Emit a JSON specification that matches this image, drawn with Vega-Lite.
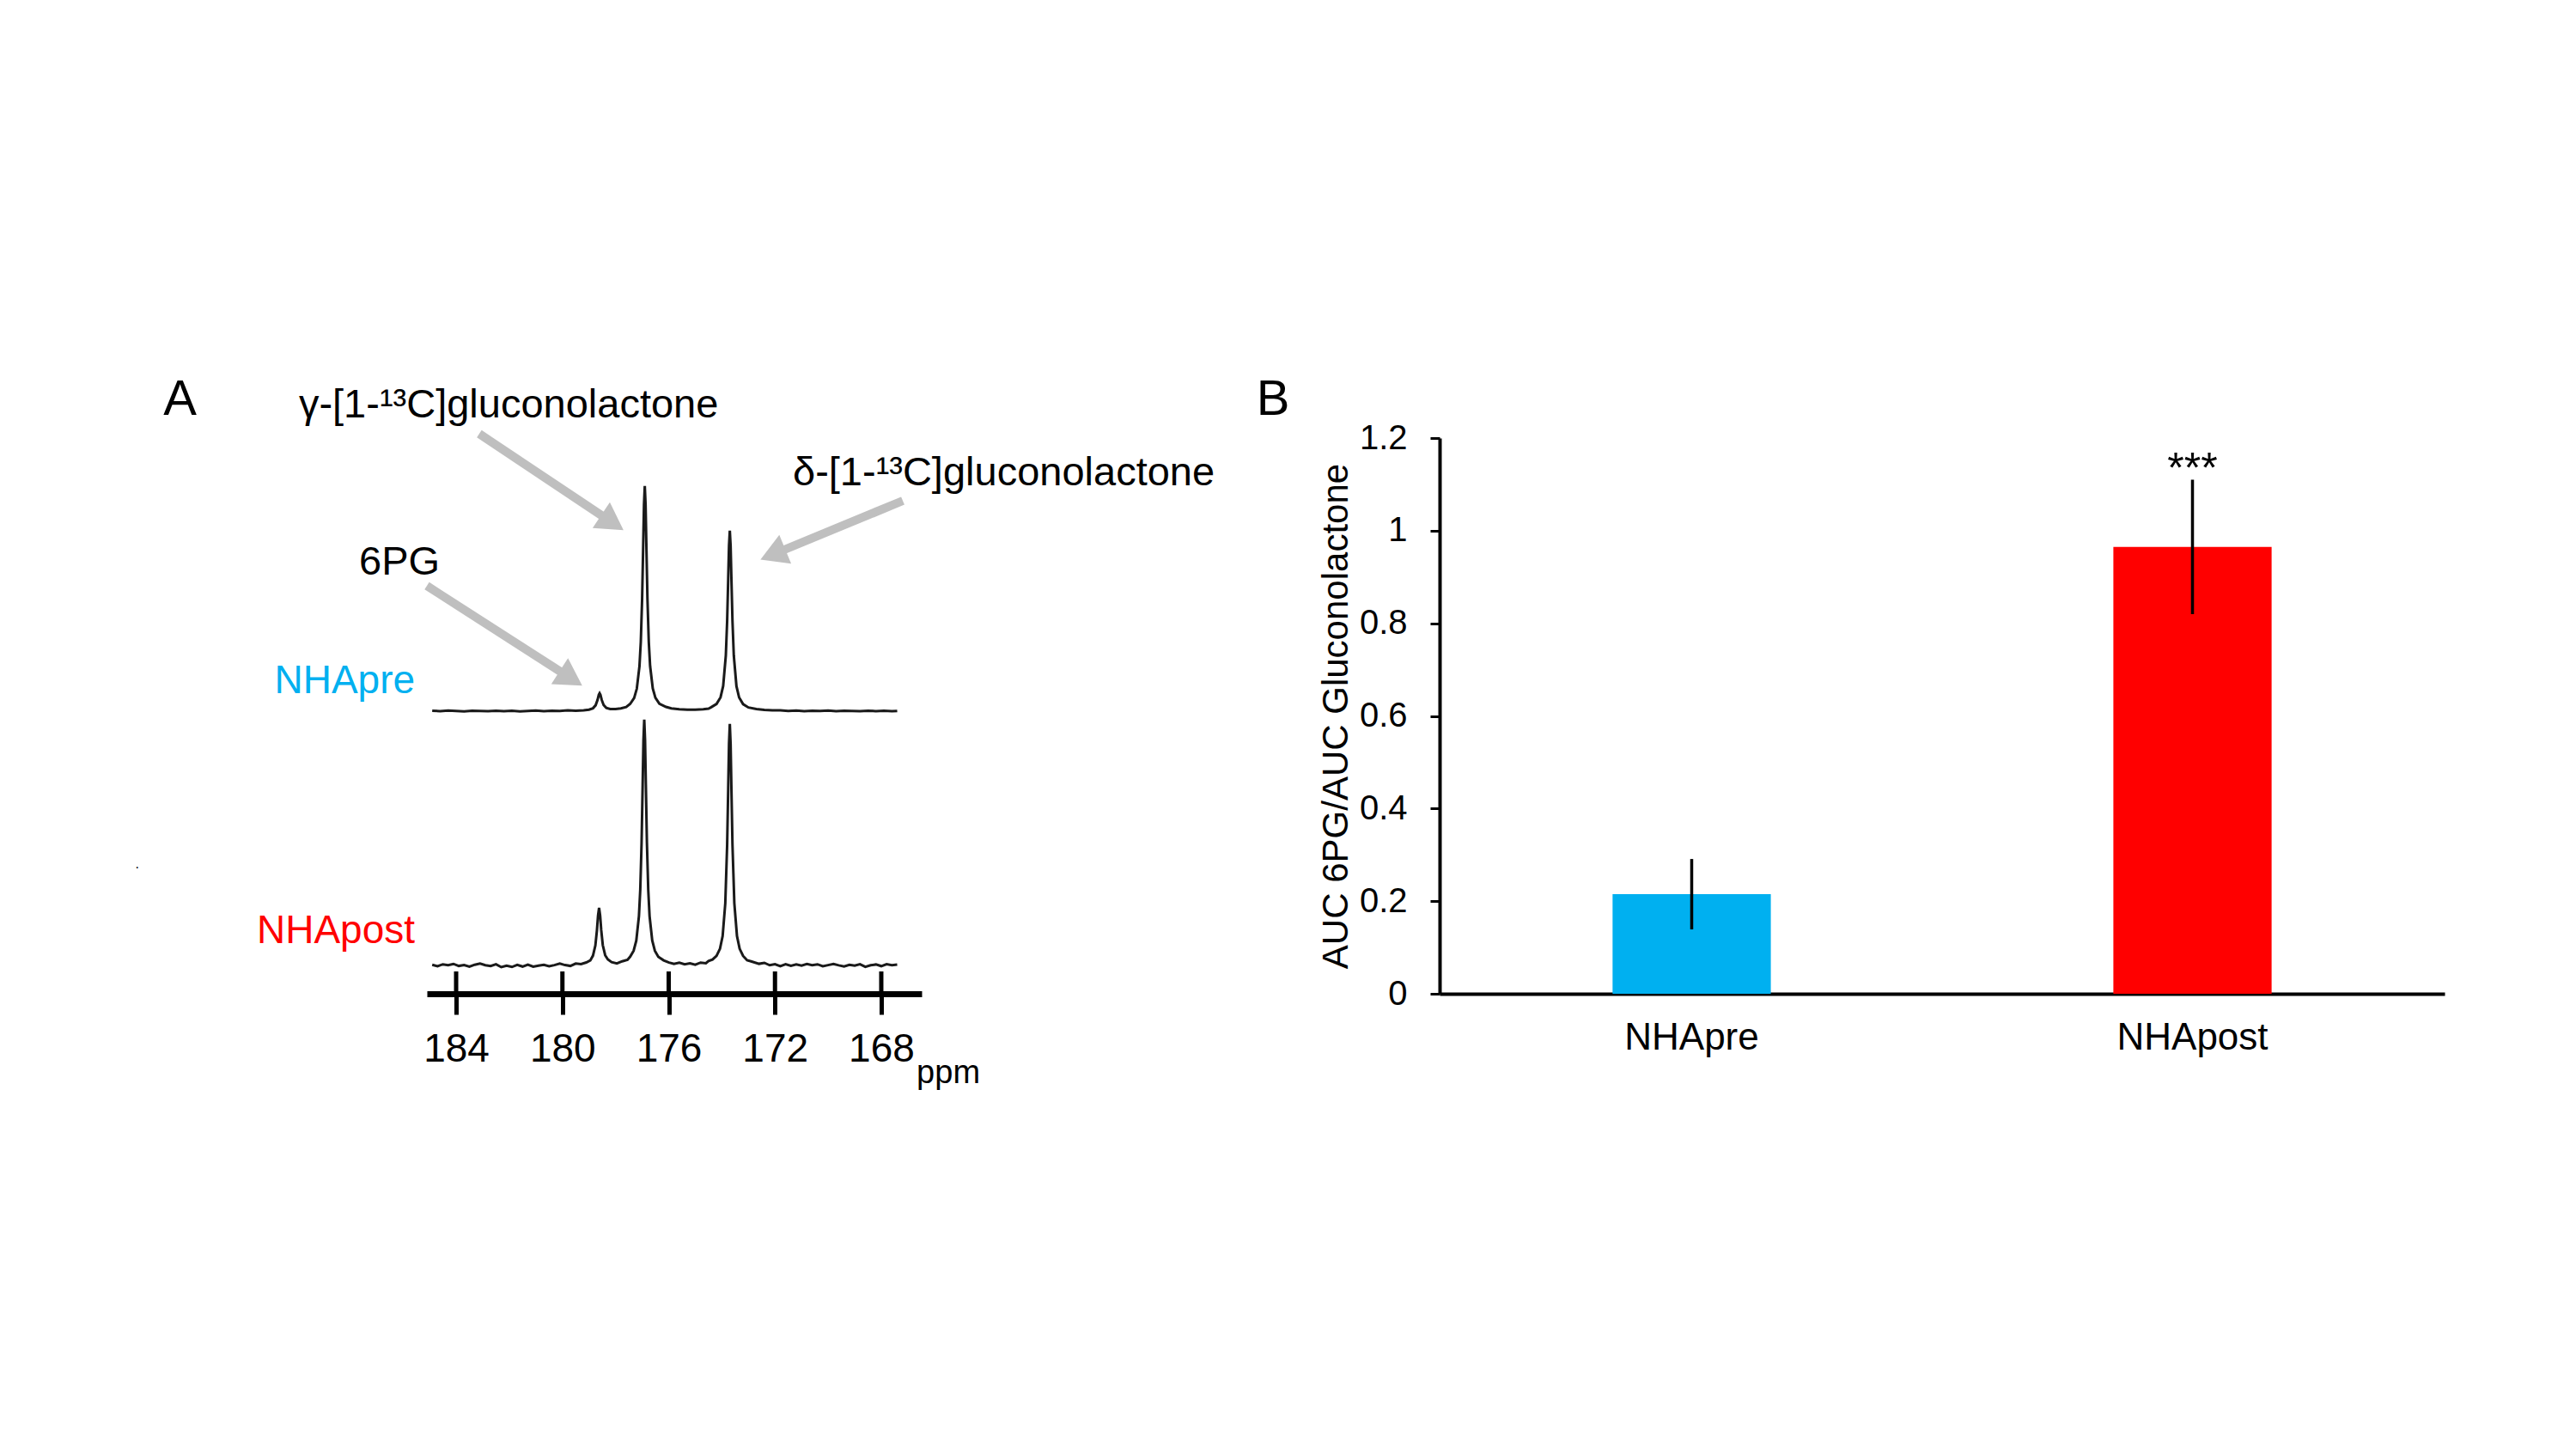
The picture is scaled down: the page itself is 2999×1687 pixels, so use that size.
{
"$schema": "https://vega.github.io/schema/vega-lite/v6.json",
"background": "white",
"padding": {"left": 157, "top": 437, "right": 20, "bottom": 20},
"bounds": "flush",
"spacing": 603,
"config": {"view": {"stroke": null}, "font": "Liberation Sans", "axis": {"labelColor": "black", "titleColor": "black", "domainColor": "black", "tickColor": "black", "grid": false}},
"datasets": {
"spectra": [
{"trace":"NHApre","ppm":184.9,"signal":296.5},{"trace":"NHApre","ppm":184.6,"signal":296},{"trace":"NHApre","ppm":184.3,"signal":296.8},{"trace":"NHApre","ppm":184.0,"signal":296.2},{"trace":"NHApre","ppm":183.7,"signal":295.8},{"trace":"NHApre","ppm":183.4,"signal":296.5},{"trace":"NHApre","ppm":183.1,"signal":296.3},{"trace":"NHApre","ppm":182.8,"signal":295.9},{"trace":"NHApre","ppm":182.5,"signal":296.6},{"trace":"NHApre","ppm":182.2,"signal":296.1},{"trace":"NHApre","ppm":181.9,"signal":296.4},{"trace":"NHApre","ppm":181.6,"signal":295.8},{"trace":"NHApre","ppm":181.3,"signal":296.3},{"trace":"NHApre","ppm":181.0,"signal":296.7},{"trace":"NHApre","ppm":180.7,"signal":296.1},{"trace":"NHApre","ppm":180.4,"signal":296.5},{"trace":"NHApre","ppm":180.1,"signal":296.2},{"trace":"NHApre","ppm":179.8,"signal":296.9},{"trace":"NHApre","ppm":179.5,"signal":296.6},{"trace":"NHApre","ppm":179.2,"signal":297.0},{"trace":"NHApre","ppm":179.0,"signal":297.8},{"trace":"NHApre","ppm":178.85,"signal":299.4},{"trace":"NHApre","ppm":178.75,"signal":302.9},{"trace":"NHApre","ppm":178.68,"signal":309},{"trace":"NHApre","ppm":178.63,"signal":315.1},{"trace":"NHApre","ppm":178.6,"signal":316.8},{"trace":"NHApre","ppm":178.57,"signal":315.1},{"trace":"NHApre","ppm":178.52,"signal":309.1},{"trace":"NHApre","ppm":178.45,"signal":303.2},{"trace":"NHApre","ppm":178.35,"signal":299.9},{"trace":"NHApre","ppm":178.2,"signal":298.6},{"trace":"NHApre","ppm":178.0,"signal":298.5},{"trace":"NHApre","ppm":177.8,"signal":299.2},{"trace":"NHApre","ppm":177.6,"signal":300.8},{"trace":"NHApre","ppm":177.45,"signal":304.5},{"trace":"NHApre","ppm":177.3,"signal":311.4},{"trace":"NHApre","ppm":177.2,"signal":322.2},{"trace":"NHApre","ppm":177.1,"signal":348.4},{"trace":"NHApre","ppm":177.05,"signal":376.7},{"trace":"NHApre","ppm":177.0,"signal":427},{"trace":"NHApre","ppm":176.96,"signal":488.6},{"trace":"NHApre","ppm":176.93,"signal":536.3},{"trace":"NHApre","ppm":176.9,"signal":558.2},{"trace":"NHApre","ppm":176.87,"signal":536.5},{"trace":"NHApre","ppm":176.84,"signal":488.8},{"trace":"NHApre","ppm":176.8,"signal":427.2},{"trace":"NHApre","ppm":176.75,"signal":377},{"trace":"NHApre","ppm":176.7,"signal":348.7},{"trace":"NHApre","ppm":176.6,"signal":322.5},{"trace":"NHApre","ppm":176.5,"signal":311.7},{"trace":"NHApre","ppm":176.35,"signal":304.7},{"trace":"NHApre","ppm":176.1,"signal":301},{"trace":"NHApre","ppm":175.9,"signal":299.3},{"trace":"NHApre","ppm":175.6,"signal":298.2},{"trace":"NHApre","ppm":175.3,"signal":297.8},{"trace":"NHApre","ppm":175.0,"signal":297.8},{"trace":"NHApre","ppm":174.7,"signal":298.3},{"trace":"NHApre","ppm":174.5,"signal":299},{"trace":"NHApre","ppm":174.4,"signal":300.6},{"trace":"NHApre","ppm":174.2,"signal":304.4},{"trace":"NHApre","ppm":174.05,"signal":312.1},{"trace":"NHApre","ppm":173.95,"signal":325.3},{"trace":"NHApre","ppm":173.85,"signal":360.9},{"trace":"NHApre","ppm":173.8,"signal":401.2},{"trace":"NHApre","ppm":173.76,"signal":450.5},{"trace":"NHApre","ppm":173.73,"signal":488.8},{"trace":"NHApre","ppm":173.7,"signal":506.2},{"trace":"NHApre","ppm":173.67,"signal":488.8},{"trace":"NHApre","ppm":173.64,"signal":450.5},{"trace":"NHApre","ppm":173.6,"signal":401.2},{"trace":"NHApre","ppm":173.55,"signal":360.8},{"trace":"NHApre","ppm":173.45,"signal":325.1},{"trace":"NHApre","ppm":173.35,"signal":312},{"trace":"NHApre","ppm":173.2,"signal":304.2},{"trace":"NHApre","ppm":173.0,"signal":300.3},{"trace":"NHApre","ppm":172.7,"signal":298.6},{"trace":"NHApre","ppm":172.4,"signal":297.6},{"trace":"NHApre","ppm":172.1,"signal":297},{"trace":"NHApre","ppm":171.8,"signal":296.9},{"trace":"NHApre","ppm":171.5,"signal":296.3},{"trace":"NHApre","ppm":171.2,"signal":296.7},{"trace":"NHApre","ppm":170.9,"signal":296.1},{"trace":"NHApre","ppm":170.6,"signal":296.5},{"trace":"NHApre","ppm":170.3,"signal":296.2},{"trace":"NHApre","ppm":170.0,"signal":296.8},{"trace":"NHApre","ppm":169.7,"signal":296.0},{"trace":"NHApre","ppm":169.4,"signal":296.5},{"trace":"NHApre","ppm":169.1,"signal":296.3},{"trace":"NHApre","ppm":168.8,"signal":295.9},{"trace":"NHApre","ppm":168.5,"signal":296.6},{"trace":"NHApre","ppm":168.2,"signal":296.1},{"trace":"NHApre","ppm":167.9,"signal":296.4},{"trace":"NHApre","ppm":167.6,"signal":295.9},{"trace":"NHApre","ppm":167.4,"signal":296.3},
{"trace":"NHApost","ppm":184.9,"signal":0.7},{"trace":"NHApost","ppm":184.7,"signal":-1},{"trace":"NHApost","ppm":184.5,"signal":1.3},{"trace":"NHApost","ppm":184.3,"signal":0.2},{"trace":"NHApost","ppm":184.1,"signal":1.8},{"trace":"NHApost","ppm":183.9,"signal":-0.6},{"trace":"NHApost","ppm":183.7,"signal":0.4},{"trace":"NHApost","ppm":183.5,"signal":-1.5},{"trace":"NHApost","ppm":183.3,"signal":0.8},{"trace":"NHApost","ppm":183.1,"signal":2.1},{"trace":"NHApost","ppm":182.9,"signal":0.3},{"trace":"NHApost","ppm":182.7,"signal":-0.7},{"trace":"NHApost","ppm":182.5,"signal":1.4},{"trace":"NHApost","ppm":182.3,"signal":-2},{"trace":"NHApost","ppm":182.1,"signal":-0.4},{"trace":"NHApost","ppm":181.9,"signal":-1.8},{"trace":"NHApost","ppm":181.7,"signal":0.6},{"trace":"NHApost","ppm":181.5,"signal":-1.3},{"trace":"NHApost","ppm":181.3,"signal":1},{"trace":"NHApost","ppm":181.1,"signal":-1.4},{"trace":"NHApost","ppm":180.9,"signal":-0.2},{"trace":"NHApost","ppm":180.7,"signal":0.7},{"trace":"NHApost","ppm":180.5,"signal":-1},{"trace":"NHApost","ppm":180.3,"signal":0.4},{"trace":"NHApost","ppm":180.1,"signal":2.2},{"trace":"NHApost","ppm":179.9,"signal":0.4},{"trace":"NHApost","ppm":179.7,"signal":-0.6},{"trace":"NHApost","ppm":179.5,"signal":2.2},{"trace":"NHApost","ppm":179.3,"signal":1.5},{"trace":"NHApost","ppm":179.1,"signal":3.5},{"trace":"NHApost","ppm":178.95,"signal":5.8},{"trace":"NHApost","ppm":178.85,"signal":11.4},{"trace":"NHApost","ppm":178.76,"signal":23.2},{"trace":"NHApost","ppm":178.7,"signal":41.2},{"trace":"NHApost","ppm":178.66,"signal":57.9},{"trace":"NHApost","ppm":178.62,"signal":67},{"trace":"NHApost","ppm":178.58,"signal":58},{"trace":"NHApost","ppm":178.54,"signal":41.3},{"trace":"NHApost","ppm":178.48,"signal":23.5},{"trace":"NHApost","ppm":178.39,"signal":11.8},{"trace":"NHApost","ppm":178.29,"signal":7},{"trace":"NHApost","ppm":178.15,"signal":3.8},{"trace":"NHApost","ppm":177.95,"signal":2.4},{"trace":"NHApost","ppm":177.75,"signal":4.8},{"trace":"NHApost","ppm":177.55,"signal":6.5},{"trace":"NHApost","ppm":177.45,"signal":10.2},{"trace":"NHApost","ppm":177.32,"signal":17},{"trace":"NHApost","ppm":177.22,"signal":28.8},{"trace":"NHApost","ppm":177.12,"signal":57.4},{"trace":"NHApost","ppm":177.07,"signal":88.3},{"trace":"NHApost","ppm":177.02,"signal":143.2},{"trace":"NHApost","ppm":176.98,"signal":210.4},{"trace":"NHApost","ppm":176.95,"signal":262.5},{"trace":"NHApost","ppm":176.92,"signal":286.3},{"trace":"NHApost","ppm":176.89,"signal":262.5},{"trace":"NHApost","ppm":176.86,"signal":210.4},{"trace":"NHApost","ppm":176.82,"signal":143.3},{"trace":"NHApost","ppm":176.77,"signal":88.3},{"trace":"NHApost","ppm":176.72,"signal":57.4},{"trace":"NHApost","ppm":176.62,"signal":29},{"trace":"NHApost","ppm":176.52,"signal":17.1},{"trace":"NHApost","ppm":176.39,"signal":10.1},{"trace":"NHApost","ppm":176.19,"signal":5.9},{"trace":"NHApost","ppm":175.99,"signal":3.4},{"trace":"NHApost","ppm":175.8,"signal":1.7},{"trace":"NHApost","ppm":175.6,"signal":3.2},{"trace":"NHApost","ppm":175.4,"signal":1.2},{"trace":"NHApost","ppm":175.2,"signal":2.4},{"trace":"NHApost","ppm":175.0,"signal":0.8},{"trace":"NHApost","ppm":174.8,"signal":3.3},{"trace":"NHApost","ppm":174.6,"signal":2.5},{"trace":"NHApost","ppm":174.5,"signal":5.1},{"trace":"NHApost","ppm":174.35,"signal":6.9},{"trace":"NHApost","ppm":174.2,"signal":11.2},{"trace":"NHApost","ppm":174.07,"signal":19.4},{"trace":"NHApost","ppm":173.97,"signal":34.2},{"trace":"NHApost","ppm":173.87,"signal":72.5},{"trace":"NHApost","ppm":173.8,"signal":140.8},{"trace":"NHApost","ppm":173.76,"signal":206.8},{"trace":"NHApost","ppm":173.73,"signal":258},{"trace":"NHApost","ppm":173.7,"signal":281.3},{"trace":"NHApost","ppm":173.67,"signal":258},{"trace":"NHApost","ppm":173.64,"signal":206.8},{"trace":"NHApost","ppm":173.6,"signal":140.8},{"trace":"NHApost","ppm":173.53,"signal":72.5},{"trace":"NHApost","ppm":173.43,"signal":34.2},{"trace":"NHApost","ppm":173.33,"signal":19.4},{"trace":"NHApost","ppm":173.2,"signal":11},{"trace":"NHApost","ppm":173.05,"signal":6},{"trace":"NHApost","ppm":172.9,"signal":4.8},{"trace":"NHApost","ppm":172.6,"signal":1.9},{"trace":"NHApost","ppm":172.4,"signal":3},{"trace":"NHApost","ppm":172.2,"signal":0.2},{"trace":"NHApost","ppm":172.0,"signal":1.4},{"trace":"NHApost","ppm":171.8,"signal":-0.8},{"trace":"NHApost","ppm":171.6,"signal":1.4},{"trace":"NHApost","ppm":171.4,"signal":-0.5},{"trace":"NHApost","ppm":171.2,"signal":1.1},{"trace":"NHApost","ppm":171.0,"signal":-0.1},{"trace":"NHApost","ppm":170.8,"signal":1.6},{"trace":"NHApost","ppm":170.6,"signal":0.2},{"trace":"NHApost","ppm":170.4,"signal":1.3},{"trace":"NHApost","ppm":170.2,"signal":-0.9},{"trace":"NHApost","ppm":170.0,"signal":0.4},{"trace":"NHApost","ppm":169.8,"signal":1.7},{"trace":"NHApost","ppm":169.6,"signal":0.1},{"trace":"NHApost","ppm":169.4,"signal":-1.2},{"trace":"NHApost","ppm":169.2,"signal":0.7},{"trace":"NHApost","ppm":169.0,"signal":-0.3},{"trace":"NHApost","ppm":168.8,"signal":1.4},{"trace":"NHApost","ppm":168.6,"signal":-1.6},{"trace":"NHApost","ppm":168.4,"signal":0.2},{"trace":"NHApost","ppm":168.2,"signal":1.1},{"trace":"NHApost","ppm":168.0,"signal":-0.8},{"trace":"NHApost","ppm":167.8,"signal":1.4},{"trace":"NHApost","ppm":167.6,"signal":0.3},{"trace":"NHApost","ppm":167.4,"signal":1.1}
],
"ticks": [{"ppm":184},{"ppm":180},{"ppm":176},{"ppm":172},{"ppm":168}],
"arrows": [
{"target":"gamma","ppm":183.13,"signal":619,"ppm2":178.12,"signal2":515.5},
{"target":"delta","ppm":167.19,"signal":541,"ppm2":172.08,"signal2":478.5},
{"target":"6PG","ppm":185.10,"signal":442,"ppm2":179.68,"signal2":334.2}
],
"labels": [
{"text":"A","ppm":195.02,"signal":641,"role":"panel"},
{"text":"B","ppm":153.88,"signal":641,"role":"panel"},
{"text":"γ-[1-¹³C]gluconolactone","ppm":189.92,"signal":638,"role":"compound"},
{"text":"δ-[1-¹³C]gluconolactone","ppm":171.33,"signal":559,"role":"compound"},
{"text":"6PG","ppm":187.65,"signal":455,"role":"compound"},
{"text":"NHApre","ppm":185.55,"signal":317,"role":"pre"},
{"text":"NHApost","ppm":185.55,"signal":26,"role":"post"},
{"text":"ppm","ppm":166.67,"signal":-137,"role":"unit"},
{"text":".","ppm":196.0,"signal":113,"role":"dot"}
],
"bars": [
{"group":"NHApre","ratio":0.215,"lower":0.139,"upper":0.291,"sig":""},
{"group":"NHApost","ratio":0.965,"lower":0.82,"upper":1.11,"sig":"***"}
]
},
"hconcat": [
{
"width": 576, "height": 647,
"layer": [
{
"data": {"name": "spectra"},
"mark": {"type": "line", "color": "#1a1a1a", "strokeWidth": 3},
"encoding": {
"x": {"field": "ppm", "type": "quantitative", "scale": {"domain": [166.48, 185.1], "reverse": true, "nice": false, "zero": false},
"axis": {"values": [184, 180, 176, 172, 168], "title": null, "domainWidth": 7, "tickWidth": 5, "tickSize": 24, "labelFontSize": 46, "labelPadding": 18, "labelFlush": false, "labelOverlap": false}},
"y": {"field": "signal", "type": "quantitative", "scale": {"domain": [-33, 614], "nice": false, "zero": false}, "axis": null},
"detail": {"field": "trace"}
}
},
{
"data": {"name": "ticks"},
"mark": {"type": "rule", "color": "black", "strokeWidth": 5},
"encoding": {
"x": {"field": "ppm", "type": "quantitative"},
"y": {"datum": -33},
"y2": {"datum": -7}
}
},
{
"data": {"name": "arrows"},
"mark": {"type": "rule", "color": "#BFBFBF", "strokeWidth": 10},
"encoding": {
"x": {"field": "ppm", "type": "quantitative"},
"y": {"field": "signal", "type": "quantitative"},
"x2": {"field": "ppm2"},
"y2": {"field": "signal2"}
}
},
{
"data": {"name": "arrows"},
"transform": [{"filter": "datum.target === 'gamma'"}],
"mark": {"type": "point", "shape": "triangle-up", "filled": true, "color": "#BFBFBF", "opacity": 1, "size": 1300, "angle": 123.8},
"encoding": {"x": {"field": "ppm2", "type": "quantitative"}, "y": {"field": "signal2", "type": "quantitative"}}
},
{
"data": {"name": "arrows"},
"transform": [{"filter": "datum.target === 'delta'"}],
"mark": {"type": "point", "shape": "triangle-up", "filled": true, "color": "#BFBFBF", "opacity": 1, "size": 1300, "angle": 247.5},
"encoding": {"x": {"field": "ppm2", "type": "quantitative"}, "y": {"field": "signal2", "type": "quantitative"}}
},
{
"data": {"name": "arrows"},
"transform": [{"filter": "datum.target === '6PG'"}],
"mark": {"type": "point", "shape": "triangle-up", "filled": true, "color": "#BFBFBF", "opacity": 1, "size": 1300, "angle": 122.7},
"encoding": {"x": {"field": "ppm2", "type": "quantitative"}, "y": {"field": "signal2", "type": "quantitative"}}
},
{
"data": {"name": "labels"},
"transform": [{"filter": "datum.role === 'panel'"}],
"mark": {"type": "text", "align": "left", "baseline": "alphabetic", "fontSize": 58, "color": "black"},
"encoding": {"x": {"field": "ppm", "type": "quantitative"}, "y": {"field": "signal", "type": "quantitative"}, "text": {"field": "text"}}
},
{
"data": {"name": "labels"},
"transform": [{"filter": "datum.role === 'compound'"}],
"mark": {"type": "text", "align": "left", "baseline": "alphabetic", "fontSize": 47, "color": "black"},
"encoding": {"x": {"field": "ppm", "type": "quantitative"}, "y": {"field": "signal", "type": "quantitative"}, "text": {"field": "text"}}
},
{
"data": {"name": "labels"},
"transform": [{"filter": "datum.role === 'pre'"}],
"mark": {"type": "text", "align": "right", "baseline": "alphabetic", "fontSize": 46, "color": "#00B0F0"},
"encoding": {"x": {"field": "ppm", "type": "quantitative"}, "y": {"field": "signal", "type": "quantitative"}, "text": {"field": "text"}}
},
{
"data": {"name": "labels"},
"transform": [{"filter": "datum.role === 'post'"}],
"mark": {"type": "text", "align": "right", "baseline": "alphabetic", "fontSize": 46, "color": "#FF0000"},
"encoding": {"x": {"field": "ppm", "type": "quantitative"}, "y": {"field": "signal", "type": "quantitative"}, "text": {"field": "text"}}
},
{
"data": {"name": "labels"},
"transform": [{"filter": "datum.role === 'unit'"}],
"mark": {"type": "text", "align": "left", "baseline": "alphabetic", "fontSize": 38, "color": "black"},
"encoding": {"x": {"field": "ppm", "type": "quantitative"}, "y": {"field": "signal", "type": "quantitative"}, "text": {"field": "text"}}
},
{
"data": {"name": "labels"},
"transform": [{"filter": "datum.role === 'dot'"}],
"mark": {"type": "text", "align": "center", "baseline": "alphabetic", "fontSize": 16, "color": "black"},
"encoding": {"x": {"field": "ppm", "type": "quantitative"}, "y": {"field": "signal", "type": "quantitative"}, "text": {"field": "text"}}
}
]
},
{
"width": 1170, "height": 647,
"data": {"name": "bars"},
"encoding": {
"x": {"field": "group", "type": "nominal", "sort": ["NHApre", "NHApost"], "scale": {"paddingInner": 0.684, "paddingOuter": 0.3454},
"axis": {"title": null, "labelAngle": 0, "ticks": false, "domainWidth": 4, "labelFontSize": 44, "labelPadding": 29}}
},
"layer": [
{
"mark": {"type": "bar"},
"encoding": {
"y": {"field": "ratio", "type": "quantitative", "scale": {"domain": [0, 1.2], "nice": false},
"axis": {"values": [0, 0.2, 0.4, 0.6, 0.8, 1, 1.2], "format": "~g", "domainWidth": 4, "tickWidth": 3, "tickSize": 11, "labelFontSize": 40, "labelPadding": 27, "title": "AUC 6PG/AUC Gluconolactone", "titleFontSize": 42, "titleFontWeight": "normal", "titlePadding": 5}},
"color": {"field": "group", "type": "nominal", "scale": {"domain": ["NHApre", "NHApost"], "range": ["#00B0F0", "#FF0000"]}, "legend": null}
}
},
{
"mark": {"type": "rule", "color": "black", "strokeWidth": 3.5},
"encoding": {"y": {"field": "lower", "type": "quantitative"}, "y2": {"field": "upper"}}
},
{
"mark": {"type": "text", "baseline": "alphabetic", "dy": 3, "fontSize": 50, "color": "black"},
"encoding": {"y": {"field": "upper", "type": "quantitative"}, "text": {"field": "sig"}}
}
]
}
]
}
